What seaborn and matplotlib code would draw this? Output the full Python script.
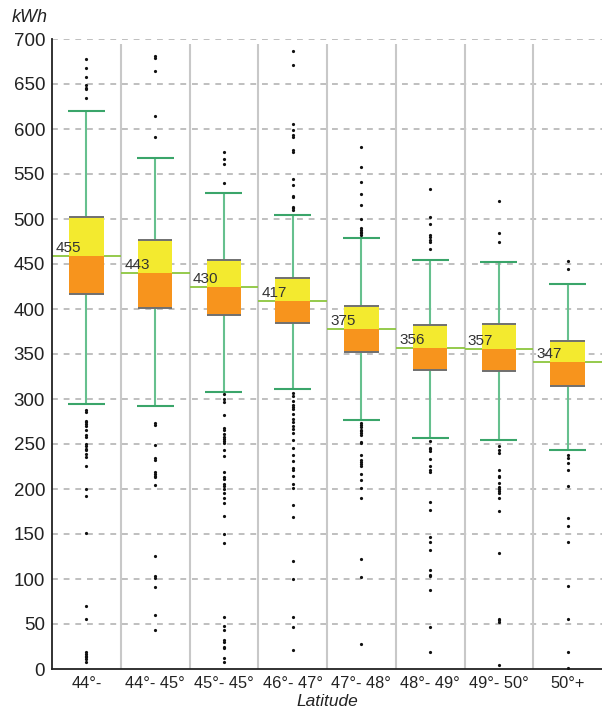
import numpy as np
import pandas as pd
import matplotlib
matplotlib.use("Agg")
import matplotlib.pyplot as plt
import seaborn as sns

# Données
cats = ['44°-', '44°- 45°', '45°- 45°', '46°- 47°', '47°- 48°', '48°- 49°', '49°- 50°', '50°+']
q1 = [417, 401, 393, 384, 352, 332, 331, 315]
med = [459, 440, 425, 409, 378, 357, 356, 341]
q3 = [502, 477, 454, 434, 403, 382, 383, 365]
whislo = [294, 292, 308, 311, 277, 257, 254, 243]
whishi = [620, 568, 529, 504, 479, 455, 452, 428]
mean_labels = ['455', '443', '430', '417', '375', '356', '357', '347']

o1 = [678, 668, 658, 649, 646, 644, 634, 288, 286, 276, 274, 272, 270, 266, 260, 258, 250, 248,
      245, 243, 239, 236, 226, 200, 192, 151, 70, 56, 19, 17, 15, 13, 11, 8]
o2 = [681, 679, 665, 615, 591, 273, 271, 249, 235, 232, 219, 217, 215, 213, 204, 126, 103, 101,
      91, 60, 43]
o3 = [574, 567, 561, 540, 306, 300, 297, 282, 268, 266, 261, 258, 256, 253, 251, 243, 237, 219,
      213, 211, 206, 203, 200, 196, 190, 185, 170, 150, 140, 58, 48, 43, 32, 30, 25, 23, 12, 8]
o4 = [687, 671, 606, 599, 593, 591, 577, 574, 544, 538, 526, 525, 513, 512, 510, 307, 303, 298,
      293, 291, 289, 283, 278, 275, 270, 267, 262, 254, 246, 238, 231, 223, 221, 214, 206, 201,
      182, 169, 120, 100, 58, 47, 21]
o5 = [580, 558, 541, 528, 516, 500, 490, 488, 486, 484, 482, 273, 271, 269, 266, 264, 262, 260,
      252, 251, 238, 232, 230, 228, 226, 217, 210, 201, 190, 122, 102, 28]
o6 = [533, 502, 494, 482, 480, 477, 474, 467, 253, 246, 244, 242, 233, 226, 221, 219, 186, 177,
      147, 141, 132, 110, 104, 103, 88, 47, 19]
o7 = [520, 484, 474, 248, 243, 240, 221, 215, 213, 207, 202, 200, 198, 196, 190, 176, 129, 56,
      54, 52, 5]
o8 = [453, 445, 238, 235, 229, 221, 203, 168, 159, 141, 92, 56, 19, 1]
outliers = [o1, o2, o3, o4, o5, o6, o7, o8]

df = pd.DataFrame({
    'Latitude': [c for c, o in zip(cats, outliers) for _ in o],
    'kWh': [v for o in outliers for v in o],
})

sns.set_style('white')
plt.rcParams['font.family'] = ['Liberation Sans', 'DejaVu Sans']

fig = plt.figure(figsize=(6.02, 7.11), dpi=100)
ax = fig.add_axes([52 / 602, 42 / 711, 550 / 602, 630 / 711])

x = np.arange(len(cats))
q1a, meda, q3a = np.array(q1), np.array(med), np.array(q3)

# grille
for v in range(50, 701, 50):
    ax.axhline(v, color='#b4b4b4', lw=1.2, ls=(0, (3.5, 3.5)), zorder=0)
ax.vlines(x[:-1] + 0.5, 0, 695, color='#c8c8c8', lw=1.5, zorder=0)

# moustaches
ax.vlines(x, q3a, whishi, color='#66c08e', lw=1.5, zorder=2)
ax.vlines(x, whislo, q1a, color='#66c08e', lw=1.5, zorder=2)
ax.hlines(whishi, x - 0.27, x + 0.27, color='#3aa56a', lw=1.5, zorder=2)
ax.hlines(whislo, x - 0.27, x + 0.27, color='#3aa56a', lw=1.5, zorder=2)

# ligne moyenne
ax.hlines(meda, x - 0.5, x + 0.5, color='#8cc63e', lw=1.3, zorder=1)

# boîtes
ax.bar(x, q3a - meda, bottom=meda, width=0.5, color='#f3ea2f', edgecolor='none',
       linewidth=0, zorder=3)
ax.bar(x, meda - q1a, bottom=q1a, width=0.5, color='#f7941d', edgecolor='none',
       linewidth=0, zorder=3)
ax.hlines(q3a, x - 0.25, x + 0.25, color='#707070', lw=1.4, zorder=4)
ax.hlines(q1a, x - 0.25, x + 0.25, color='#707070', lw=1.4, zorder=4)

for i, lab in enumerate(mean_labels):
    ax.text(i - 0.45, med[i] + 4, lab, fontsize=11, color='#333333', va='baseline', zorder=5)

sns.stripplot(data=df, x='Latitude', y='kWh', order=cats, jitter=False, color='#111111',
              size=2.3, linewidth=0, ax=ax, zorder=5)

ax.set_xlim(-0.5, 7.5)
ax.set_ylim(0, 700)
ax.set_yticks(range(0, 701, 50))
ax.tick_params(axis='y', labelsize=13.5, length=3, width=1, color='#333333', pad=2,
               labelcolor='#222222')
ax.set_xticks(x)
ax.set_xticklabels(cats)
ax.set_xticks(x[:-1] + 0.5, minor=True)
ax.tick_params(axis='x', which='major', length=0, labelsize=11.8, pad=5, labelcolor='#222222')
ax.tick_params(axis='x', which='minor', length=7, width=1.5, color='#c8c8c8', direction='out')

for s in ['top', 'right']:
    ax.spines[s].set_visible(False)
for s in ['left', 'bottom']:
    ax.spines[s].set_color('#222222')
    ax.spines[s].set_linewidth(1.3)

ax.set_xlabel('Latitude', fontsize=12.5, style='italic', labelpad=2, color='#222222')
ax.set_ylabel('')
fig.text(12 / 602, 1 - 18 / 711, 'kWh', fontsize=13, style='italic', va='center',
         color='#222222')

fig.savefig('out.png', dpi=100)
